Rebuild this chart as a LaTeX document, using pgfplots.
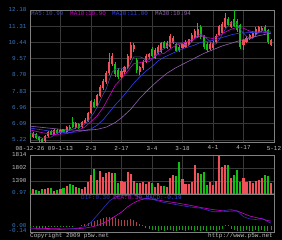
\documentclass[border=0pt]{standalone}
\usepackage{pgfplots}
\pgfplotsset{compat=1.18}
\usepackage{pgfplotstable}
\usepackage{fontspec}
\setmainfont{Liberation Mono}
\definecolor{upc}{HTML}{F0505A}
\definecolor{dnc}{HTML}{10C010}
\definecolor{frm}{HTML}{808080}
\definecolor{grd}{HTML}{383838}
\definecolor{tickb}{HTML}{3A78C0}
\definecolor{txtg}{HTML}{C0C0C0}
\definecolor{ma5c}{HTML}{4848A0}
\definecolor{ma10c}{HTML}{D000D0}
\definecolor{ma20c}{HTML}{3040F0}
\definecolor{ma30c}{HTML}{9060B0}
\definecolor{difc}{HTML}{3030C0}
\definecolor{histr}{HTML}{B04040}
\definecolor{histg}{HTML}{10A010}

\pgfplotstableread{
i o h l c v
1 5.36 5.62 5.31 5.58 5
5 5.15 5.45 5.10 5.40 5
6 5.40 5.70 5.35 5.65 6
8 5.50 5.80 5.45 5.72 3
10 5.60 5.80 5.55 5.75 5
12 5.62 5.95 5.58 5.90 8
15 5.85 6.15 5.80 6.10 7
17 5.88 6.22 5.85 6.15 5
18 6.10 6.38 6.05 6.30 7
19 6.25 6.70 6.20 6.65 12
20 6.65 7.35 6.60 7.30 19
22 7.05 7.65 7.00 7.60 14
23 7.55 8.15 7.50 8.05 23
24 8.00 8.50 7.90 8.35 17
25 8.30 8.90 8.20 8.80 21
26 8.80 9.87 8.70 9.40 22
27 9.30 9.90 9.20 9.70 21
30 8.60 9.00 8.50 8.90 13
31 8.85 9.20 8.75 9.10 12
32 9.10 9.80 9.00 9.70 22
33 9.60 10.46 9.50 10.30 20
34 10.10 10.40 9.95 10.30 13
36 8.85 9.20 8.70 9.10 11
37 9.05 9.50 8.95 9.40 12
38 9.40 9.80 9.35 9.70 10
39 9.65 9.90 9.55 9.80 12
41 9.60 10.15 9.55 10.05 7
42 9.85 10.30 9.80 10.20 11
43 9.95 10.45 9.90 10.40 8
45 10.15 10.50 10.10 10.40 7
46 10.20 10.90 10.15 10.80 16
47 10.40 10.80 10.35 10.70 19
50 10.15 10.40 10.10 10.35 15
51 10.20 10.55 10.15 10.45 10
52 10.30 10.65 10.25 10.60 10
53 10.50 10.95 10.45 10.85 12
54 10.70 11.15 10.65 11.05 29
55 10.75 11.48 10.70 11.15 21
59 10.10 10.45 10.05 10.35 12
60 10.15 10.50 10.10 10.40 9
61 10.45 10.90 10.40 10.80 13
62 10.85 11.40 10.80 11.30 38
63 10.95 11.55 10.90 11.45 27
64 11.25 12.02 11.20 11.75 29
66 11.25 11.60 11.20 11.55 16
70 10.30 10.60 10.05 10.55 16
71 10.45 10.80 10.40 10.70 12
72 10.60 10.90 10.55 10.85 13
73 10.70 11.00 10.65 10.95 11
74 10.85 11.25 10.80 11.15 13
75 11.00 11.30 10.95 11.25 14
76 11.05 11.30 11.00 11.20 16
79 10.30 10.60 10.25 10.55 11
}\up

\pgfplotstableread{
i o h l c v
0 5.63 5.70 5.30 5.36 5
2 5.55 5.60 5.25 5.31 4
3 5.36 5.40 5.12 5.20 3
4 5.25 5.30 5.09 5.12 5
7 5.68 5.75 5.45 5.50 6
9 5.75 5.82 5.55 5.60 4
11 5.75 5.80 5.58 5.62 6
13 5.92 6.00 5.72 5.78 10
14 6.20 6.43 5.85 5.90 9
16 6.08 6.12 5.80 5.85 6
21 7.25 7.40 6.95 7.00 25
28 9.30 9.40 8.60 8.75 21
29 8.95 9.05 8.50 8.60 11
35 9.50 9.60 8.80 8.95 11
40 10.10 10.20 9.65 9.70 11
44 10.45 10.50 10.10 10.15 8
48 10.35 10.40 9.95 10.00 18
49 10.20 10.30 9.95 10.05 32
56 11.25 11.40 10.65 10.75 20
57 10.80 10.85 10.10 10.20 22
58 10.35 10.45 9.95 10.05 9
65 11.70 11.80 11.30 11.40 29
67 11.70 12.18 11.25 11.30 19
68 11.60 11.70 11.00 11.10 24
69 11.35 11.45 10.10 10.20 12
77 11.25 11.35 10.95 11.05 19
78 11.10 11.15 10.35 10.45 18
}\dn

\pgfplotsset{
  panel/.style={scale only axis, width=244bp, xmin=0, xmax=80,
    axis line style={frm, line width=0.6bp},
    major tick length=0pt,
    grid style={grd, line width=0.5bp},
    tick label style={font=\fontsize{6}{7}\selectfont},
    anchor=north west},
  wick/.style={draw=none, mark=none, forget plot,
    error bars/.cd, y dir=both, y explicit, error mark=none,
    error bar style={draw=#1, line width=0.6bp}},
  body/.style={draw=none, mark=none, forget plot,
    error bars/.cd, y dir=both, y explicit, error mark=none,
    error bar style={draw=#1, line width=2.1bp}},
}

\begin{document}
\begin{tikzpicture}
\fill[black] (0,0) rectangle (282bp,240bp);
\useasboundingbox (0,0) rectangle (282bp,240bp);

% ---------- price panel ----------
\begin{axis}[panel, at={(30bp,230bp)}, height=132.5bp,
  ymin=5.075, ymax=12.18,
  xtick={0,10,...,80},
  xticklabels={08-12-26,09-1-13,2-3,2-17,3-4,3-18,4-1,4-17,5-12},
  xticklabel style={text=txtg},
  ytick={5.22,6.09,6.96,7.83,8.70,9.57,10.44,11.31,12.18},
  yticklabels={5.22,6.09,6.96,7.83,8.70,9.57,10.44,11.31,12.18},
  yticklabel style={text=tickb},
  xmajorgrids, ymajorgrids]
\addplot[wick=upc] table[x=i, y expr={(\thisrow{h}+\thisrow{l})/2}, y error expr={(\thisrow{h}-\thisrow{l})/2}] {\up};
\addplot[wick=dnc] table[x=i, y expr={(\thisrow{h}+\thisrow{l})/2}, y error expr={(\thisrow{h}-\thisrow{l})/2}] {\dn};
\addplot[body=upc] table[x=i, y expr={(\thisrow{o}+\thisrow{c})/2}, y error expr={max(abs(\thisrow{c}-\thisrow{o})/2,0.02)}] {\up};
\addplot[body=dnc] table[x=i, y expr={(\thisrow{o}+\thisrow{c})/2}, y error expr={max(abs(\thisrow{c}-\thisrow{o})/2,0.02)}] {\dn};
% MA5
\addplot[ma5c, line width=0.6bp] coordinates {(0,5.62)(2,5.45)(4,5.31)(5,5.32)(6,5.34)(7,5.37)(8,5.48)(9,5.57)(10,5.64)(11,5.64)(12,5.72)(13,5.73)(14,5.79)(15,5.86)(16,5.91)(17,5.96)(18,6.06)(19,6.21)(20,6.45)(21,6.68)(22,6.97)(23,7.32)(24,7.66)(25,7.96)(26,8.44)(27,8.86)(28,9.00)(29,9.05)(30,9.07)(31,9.01)(32,9.01)(33,9.32)(34,9.66)(35,9.67)(36,9.67)(37,9.61)(38,9.49)(39,9.39)(40,9.54)(41,9.73)(42,9.89)(43,10.03)(44,10.10)(45,10.24)(46,10.39)(47,10.49)(48,10.41)(49,10.39)(50,10.38)(51,10.31)(52,10.29)(53,10.46)(54,10.66)(55,10.82)(56,10.88)(57,10.80)(58,10.64)(59,10.50)(60,10.35)(61,10.36)(62,10.58)(63,10.86)(64,11.14)(65,11.34)(66,11.49)(67,11.49)(68,11.42)(69,11.11)(70,10.94)(71,10.77)(72,10.68)(73,10.65)(74,10.84)(76,11.08)(78,11.02)(79,10.99)};
% MA10
\addplot[ma10c, line width=0.6bp] coordinates {(0,5.75)(4,5.60)(8,5.50)(12,5.55)(16,5.75)(18,5.90)(20,6.20)(22,6.50)(24,6.95)(26,7.55)(28,8.15)(30,8.50)(32,8.90)(34,9.30)(36,9.35)(38,9.45)(40,9.60)(42,9.80)(44,9.85)(46,10.10)(48,10.30)(50,10.40)(52,10.50)(54,10.65)(56,10.80)(58,10.70)(60,10.65)(62,10.80)(64,11.00)(66,11.15)(68,11.25)(70,11.20)(72,11.05)(74,11.00)(76,11.00)(78,10.95)(79,10.90)};
% MA20
\addplot[ma20c, line width=0.6bp] coordinates {(0,5.85)(4,5.75)(8,5.65)(12,5.60)(16,5.65)(20,5.80)(22,6.00)(24,6.30)(26,6.70)(28,7.10)(30,7.45)(32,7.85)(34,8.25)(36,8.60)(38,8.90)(40,9.15)(42,9.45)(44,9.65)(46,9.80)(48,9.95)(50,10.10)(52,10.20)(54,10.30)(56,10.45)(58,10.50)(60,10.55)(62,10.65)(64,10.75)(66,10.85)(68,10.92)(70,10.95)(72,10.97)(74,10.98)(76,11.00)(78,11.00)(79,11.00)};
% MA30
\addplot[ma30c, line width=0.6bp] coordinates {(0,5.95)(6,5.85)(12,5.75)(18,5.72)(22,5.78)(25,5.90)(28,6.15)(30,6.40)(33,6.85)(36,7.45)(39,7.95)(42,8.40)(45,8.80)(48,9.10)(51,9.35)(54,9.60)(57,9.85)(60,10.05)(63,10.25)(66,10.40)(69,10.55)(72,10.68)(75,10.80)(79,10.94)};
\end{axis}

% ---------- volume panel ----------
\begin{axis}[panel, at={(30bp,85bp)}, height=39bp,
  ymin=0, ymax=39,
  xtick={0,10,...,80}, xticklabels={},
  ytick={1,13,26,39},
  yticklabels={\textcolor{tickb}{0.97},1390,1802,1814},
  yticklabel style={text=txtg},
  xmajorgrids, ymajorgrids]
\addplot[ycomb, draw=upc, line width=2.1bp] table[x=i, y=v] {\up};
\addplot[ycomb, draw=dnc, line width=2.1bp] table[x=i, y=v] {\dn};
\end{axis}

% ---------- MACD panel ----------
\begin{axis}[panel, at={(30bp,46bp)}, height=38bp,
  ymin=-0.17, ymax=0.9,
  xtick=\empty,
  ytick={-0.14,0}, yticklabels={-0.14,0.00},
  yticklabel style={text=tickb}]
\addplot[ycomb, draw=histr, line width=0.8bp] coordinates {(17,0.03)(18,0.06)(19,0.08)(20,0.11)(21,0.13)(22,0.16)(23,0.19)(24,0.22)(25,0.24)(26,0.25)(27,0.25)(28,0.23)(29,0.20)(30,0.18)(31,0.16)(32,0.17)(33,0.19)(34,0.16)(35,0.10)(36,0.06)(37,0.03)(64,0.03)(65,0.04)};
\addplot[ycomb, draw=histg, line width=0.8bp] coordinates {(0,-0.04)(1,-0.03)(2,-0.05)(3,-0.06)(4,-0.07)(5,-0.05)(6,-0.03)(7,-0.04)(8,-0.02)(9,-0.03)(10,-0.02)(11,-0.03)(12,-0.02)(13,-0.03)(14,-0.02)(38,-0.06)(39,-0.09)(40,-0.12)(41,-0.10)(42,-0.13)(43,-0.11)(44,-0.14)(45,-0.12)(46,-0.10)(47,-0.13)(48,-0.14)(49,-0.12)(50,-0.11)(51,-0.14)(52,-0.12)(53,-0.10)(54,-0.13)(55,-0.11)(56,-0.14)(57,-0.12)(58,-0.13)(59,-0.10)(60,-0.12)(61,-0.14)(62,-0.11)(63,-0.08)(66,-0.08)(67,-0.12)(68,-0.14)(69,-0.13)(70,-0.14)(71,-0.12)(72,-0.14)(73,-0.13)(74,-0.11)(75,-0.14)(76,-0.12)(77,-0.13)(78,-0.14)(79,-0.12)};
\addplot[difc, line width=0.6bp] coordinates {(0,-0.08)(5,-0.09)(10,-0.10)(15,-0.07)(18,-0.02)(20,0.10)(22,0.30)(24,0.50)(26,0.70)(28,0.82)(30,0.85)(32,0.86)(34,0.88)(36,0.80)(38,0.76)(40,0.75)(44,0.66)(48,0.60)(52,0.54)(56,0.50)(60,0.40)(62,0.40)(64,0.44)(66,0.46)(68,0.42)(70,0.26)(72,0.20)(74,0.18)(76,0.22)(78,0.12)(79,0.08)};
\addplot[ma10c, line width=0.6bp] coordinates {(0,-0.06)(5,-0.07)(10,-0.08)(15,-0.08)(18,-0.06)(20,-0.03)(22,0.01)(24,0.08)(26,0.17)(28,0.28)(30,0.39)(32,0.54)(34,0.65)(36,0.73)(38,0.77)(40,0.76)(44,0.70)(48,0.65)(52,0.59)(56,0.52)(60,0.46)(62,0.44)(64,0.41)(66,0.42)(68,0.42)(70,0.35)(72,0.28)(74,0.24)(76,0.20)(78,0.15)(79,0.14)};
\end{axis}

% ---------- texts ----------
\begin{scope}[every node/.style={font=\fontsize{6}{7}\selectfont, inner sep=0pt}]
\node[anchor=west, text=ma5c] at (31bp,226bp) {MA5:10.99};
\node[anchor=west, text=ma10c] at (70bp,226bp) {MA10:10.90};
\node[anchor=west, text=ma20c] at (112bp,226bp) {MA20:11.00};
\node[anchor=west, text=ma30c] at (155bp,226bp) {MA30:10.94};
\node[anchor=west] at (81bp,42bp) {\textcolor{difc}{DIF:0.30} \textcolor{ma10c}{DEA:0.30} \textcolor{ma20c}{MACD:-0.19}};
\node[anchor=west, text=txtg] at (30bp,4bp) {Copyright 2009 p5w.net};
\node[anchor=east, text=txtg] at (273bp,4bp) {http://www.p5w.net};
\end{scope}
\end{tikzpicture}
\end{document}
